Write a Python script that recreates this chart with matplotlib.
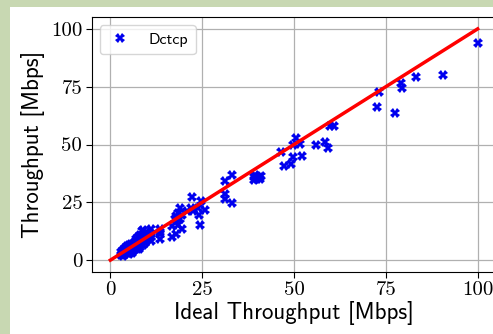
import matplotlib as mpl
mpl.use('Agg')
import matplotlib.pyplot as plt
from matplotlib.patches import Rectangle

# Measured (ideal, actual) throughput pairs in Mbps
idealTp = [
    2.8, 3.0, 3.2, 3.4, 3.5, 3.7, 3.9, 4.0, 4.1, 4.3, 4.4, 4.5, 4.7, 4.8,
    5.0, 5.1, 5.2, 5.4, 5.5, 5.6, 5.8, 5.9, 6.0, 6.1, 6.3, 6.4, 6.5, 6.7,
    6.8, 7.0, 7.1, 7.2, 7.4, 7.5, 7.6, 7.8, 8.0, 8.0, 8.2, 8.3, 8.5, 8.6,
    8.8, 9.0, 9.0, 9.2, 9.4, 9.5, 9.7, 9.8, 10.0, 10.2,
    3.6, 4.6, 5.3, 6.2, 6.9, 7.7, 8.4, 9.3,
    11.2, 11.2, 11.2, 11.2, 13.5, 13.5, 13.5, 13.5,
    16.7, 16.7, 17.6, 18.0, 18.0, 18.5, 18.5, 19.0, 19.0, 19.4, 19.6,
    20.8, 22.0, 22.3, 22.6, 23.8, 24.0, 24.4, 24.8, 25.9,
    31.3, 31.3, 31.3, 33.2, 33.2,
    39.0, 39.2, 39.5, 40.0, 40.0, 40.5, 40.8, 41.0,
    46.5, 47.4, 49.1, 49.8, 49.8, 50.5, 51.7, 52.3,
    56.0, 58.4, 59.3, 59.8, 61.0,
    72.6, 73.2, 77.5, 79.1, 79.5, 83.2, 90.7, 100.0,
]
actualTp = [
    2.2, 3.5, 2.8, 4.5, 2.0, 3.2, 5.2, 3.8, 2.5, 4.6, 6.0, 3.0, 5.5, 4.0,
    2.8, 6.5, 4.8, 3.5, 5.8, 7.0, 4.2, 6.2, 3.3, 5.0, 7.5, 6.0, 4.4, 8.0,
    5.5, 6.8, 9.0, 4.8, 7.5, 10.0, 6.2, 8.5, 11.0, 5.5, 9.5, 7.0, 12.5, 8.0,
    10.5, 6.5, 13.0, 9.0, 11.5, 7.5, 12.0, 10.0, 8.5, 11.0,
    4.0, 3.6, 6.0, 4.0, 7.2, 5.0, 9.0, 10.5,
    13.3, 11.1, 8.2, 9.8, 13.3, 11.1, 9.2, 12.3,
    14.7, 10.1, 17.6, 19.0, 11.1, 20.5, 15.4, 22.6, 17.6, 13.3, 19.7,
    21.2, 22.6, 27.4, 21.2, 22.6, 19.7, 15.0, 25.4, 21.9,
    34.4, 28.4, 26.5, 36.7, 24.5,
    36.0, 34.8, 37.0, 35.0, 36.0, 36.0, 35.2, 36.5,
    46.8, 40.9, 41.4, 49.7, 44.4, 52.9, 50.3, 45.1,
    49.6, 51.0, 48.6, 57.9, 57.9,
    66.3, 72.8, 63.8, 76.7, 74.5, 79.1, 80.0, 94.0,
]
lineX = [0, 100]
lineY = [0, 100]
ticks = [0, 25, 50, 75, 100]

fig = plt.figure(figsize=(4.93, 3.34), dpi=100)
fig.patch.set_facecolor('#c8d8b2')
fig.add_artist(Rectangle((10 / 493.0, 0), 1, 1 - 7 / 334.0,
                         transform=fig.transFigure, facecolor='white',
                         edgecolor='none', zorder=-10))

ax = fig.add_axes([92 / 493.0, 0.1865, 404 / 493.0, 0.7616])
ax.plot(idealTp, actualTp, 'X', color='#0000ee', markersize=6.5,
        markeredgewidth=0, label='Dctcp', zorder=3)
ax.plot(lineX, lineY, color='#ff0000', linewidth=2.5, zorder=4)

ax.set_xlim(-5, 105)
ax.set_ylim(-5, 105)
ax.set_xticks(ticks)
ax.set_yticks(ticks)
ax.grid(True, color='#b0b0b0', linewidth=0.9)
ax.set_axisbelow(True)
for lbl in ax.get_xticklabels() + ax.get_yticklabels():
    lbl.set_fontfamily('cmr10')
    lbl.set_fontsize(15)
ax.tick_params(length=4, width=0.8, pad=3)

ax.set_xlabel('Ideal Throughput [Mbps]', fontfamily='cmss10', fontsize=16.5,
              labelpad=1)
ax.set_ylabel('Throughput [Mbps]', fontfamily='cmss10', fontsize=16.5,
              labelpad=4)

leg = ax.legend(loc='upper left', prop={'family': 'cmss10', 'size': 11.5},
                handlelength=1.6, handletextpad=1.0, borderpad=0.45,
                fancybox=True, framealpha=0.8, edgecolor='#cccccc')

fig.savefig('out.png', dpi=100, facecolor=fig.get_facecolor())
